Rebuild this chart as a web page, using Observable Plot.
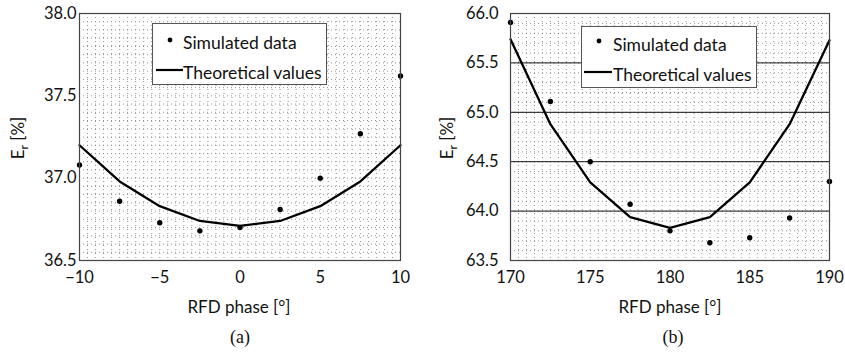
<!DOCTYPE html>
<html>
<head>
<meta charset="utf-8">
<script src="https://cdn.jsdelivr.net/npm/d3@7"></script>
<script src="https://cdn.jsdelivr.net/npm/@observablehq/plot@0.6"></script>
<style>
  html, body { margin: 0; padding: 0; background: #fff; }
  #wrap { position: relative; width: 845px; height: 352px; font-family: Lato, "Open Sans", sans-serif; color: #111; }
  .panel { position: absolute; top: 0; }
  .legend { position: absolute; border: 1px solid #555; background: #fff; box-sizing: border-box; font-size: 17.5px; }
  .item { position: absolute; white-space: nowrap; line-height: 1; }
  .ylab { position: absolute; transform: translate(-50%, -50%) rotate(-90deg); font-size: 17px; white-space: nowrap; }
  .ylab sub { font-size: 12px; }
  .xlab { position: absolute; transform: translate(-50%, -50%); font-size: 17px; white-space: nowrap; }
  .cap { position: absolute; transform: translate(-50%, -50%); font-family: "Liberation Serif", "DejaVu Serif", serif; font-size: 18px; }
</style>
</head>
<body>
<div id="wrap"></div>
<script>
// ---- data ----
const phaseA = [-10, -7.5, -5, -2.5, 0, 2.5, 5, 7.5, 10];
const theoryA = [37.20, 36.98, 36.83, 36.74, 36.71, 36.74, 36.83, 36.98, 37.20];
const simA = [37.08, 36.86, 36.73, 36.68, 36.70, 36.81, 37.00, 37.27, 37.62];
const xTicksA = [-10, -5, 0, 5, 10];
const yTicksA = [36.5, 37.0, 37.5, 38.0];

const phaseB = [170, 172.5, 175, 177.5, 180, 182.5, 185, 187.5, 190];
const theoryB = [65.74, 64.88, 64.29, 63.94, 63.83, 63.94, 64.29, 64.88, 65.73];
const simB = [65.91, 65.11, 64.50, 64.07, 63.80, 63.68, 63.73, 63.93, 64.30];
const xTicksB = [170, 175, 180, 185, 190];
const yTicksB = [63.5, 64.0, 64.5, 65.0, 65.5, 66.0];

const legendLabels = ["Simulated data", "Theoretical values"];
const xTitle = "RFD phase [°]";
const captions = ["(a)", "(b)"];

function range(a, b, step) {
  const out = [];
  const n = Math.round((b - a) / step);
  for (let i = 0; i <= n; i++) out.push(+(a + i * step).toFixed(4));
  return out;
}

function panel(o) {
  const xs = o.phase;
  const theory = xs.map((x, i) => ({x, y: o.theory[i]}));
  const sim = xs.map((x, i) => ({x, y: o.sim[i]}));
  const xd = [xs[0], xs[xs.length - 1]];
  const yd = [o.yTicks[0], o.yTicks[o.yTicks.length - 1]];
  const marks = [
    Plot.ruleX(range(xd[0], xd[1], 0.5), {stroke: "#888", strokeWidth: 0.9, strokeDasharray: "1,3"}),
    Plot.ruleY(range(yd[0], yd[1], o.yMinor), {stroke: "#888", strokeWidth: 0.9, strokeDasharray: "1,3"})
  ];
  if (o.solidY) marks.push(Plot.ruleY(o.yTicks.slice(1, -1), {stroke: "#111", strokeWidth: 1}));
  marks.push(
    Plot.line(theory, {x: "x", y: "y", stroke: "#000", strokeWidth: 2.3}),
    Plot.dot(sim, {x: "x", y: "y", r: 2.7, fill: "#000", stroke: "none"}),
    Plot.frame({stroke: "#444", strokeWidth: 1.2}),
    Plot.axisX(o.xTicks, {tickSize: 0, tickPadding: 11, fontSize: 16.5, label: null, fill: "#111"}),
    Plot.axisY(o.yTicks, {tickSize: 0, tickPadding: o.yPad, fontSize: 16.5, label: null, fill: "#111", tickFormat: d => d.toFixed(1)})
  );
  return Plot.plot({
    width: o.width, height: 290,
    marginLeft: o.ml, marginRight: o.mr, marginTop: 13, marginBottom: 30,
    style: {fontFamily: "Lato, 'Open Sans', sans-serif", background: "transparent", overflow: "visible"},
    x: {domain: xd},
    y: {domain: yd},
    marks
  });
}

const wrap = document.getElementById("wrap");

function addPanel(left, o, leg, ylabX, xlabX, capX, capText) {
  const div = document.createElement("div");
  div.className = "panel";
  div.style.left = left + "px";
  div.appendChild(panel(o));
  wrap.appendChild(div);

  const lg = document.createElement("div");
  lg.className = "legend";
  Object.assign(lg.style, {left: leg.x + "px", top: leg.y + "px", width: leg.w + "px", height: leg.h + "px"});
  lg.innerHTML =
    `<svg style="position:absolute;left:0;top:0" width="${leg.w}" height="${leg.h}">
       <circle cx="${leg.dotX}" cy="${leg.dotY}" r="2.4" fill="#000"/>
       <line x1="${leg.lineX1}" x2="${leg.lineX2}" y1="${leg.lineY}" y2="${leg.lineY}" stroke="#000" stroke-width="2.2"/>
     </svg>
     <div class="item" style="left:${leg.textX}px;top:${leg.t1}px">${legendLabels[0]}</div>
     <div class="item" style="left:${leg.textX}px;top:${leg.t2}px">${legendLabels[1]}</div>`;
  wrap.appendChild(lg);

  const yl = document.createElement("div");
  yl.className = "ylab";
  yl.style.left = ylabX + "px"; yl.style.top = "138px";
  yl.innerHTML = "E<sub>r</sub> [%]";
  wrap.appendChild(yl);

  const xl = document.createElement("div");
  xl.className = "xlab";
  xl.style.left = xlabX + "px"; xl.style.top = "306px";
  xl.textContent = xTitle;
  wrap.appendChild(xl);

  const cp = document.createElement("div");
  cp.className = "cap";
  cp.style.left = capX + "px"; cp.style.top = "337px";
  cp.textContent = capText;
  wrap.appendChild(cp);
}

addPanel(0,
  {phase: phaseA, theory: theoryA, sim: simA, xTicks: xTicksA, yTicks: yTicksA, yMinor: 0.05, solidY: false, width: 420, ml: 79, mr: 20, yPad: 3},
  {x: 152, y: 23, w: 175, h: 62, dotX: 17, dotY: 16, lineX1: 3, lineX2: 30, lineY: 46, textX: 30, t1: 10, t2: 40},
  19, 239, 240, captions[0]);

addPanel(420,
  {phase: phaseB, theory: theoryB, sim: simB, xTicks: xTicksB, yTicks: yTicksB, yMinor: 0.1, solidY: true, width: 425, ml: 90, mr: 16, yPad: 12},
  {x: 581, y: 26, w: 176, h: 62, dotX: 17, dotY: 14, lineX1: 2, lineX2: 30, lineY: 45, textX: 31, t1: 9, t2: 39},
  448, 670, 673, captions[1]);
</script>
</body>
</html>
